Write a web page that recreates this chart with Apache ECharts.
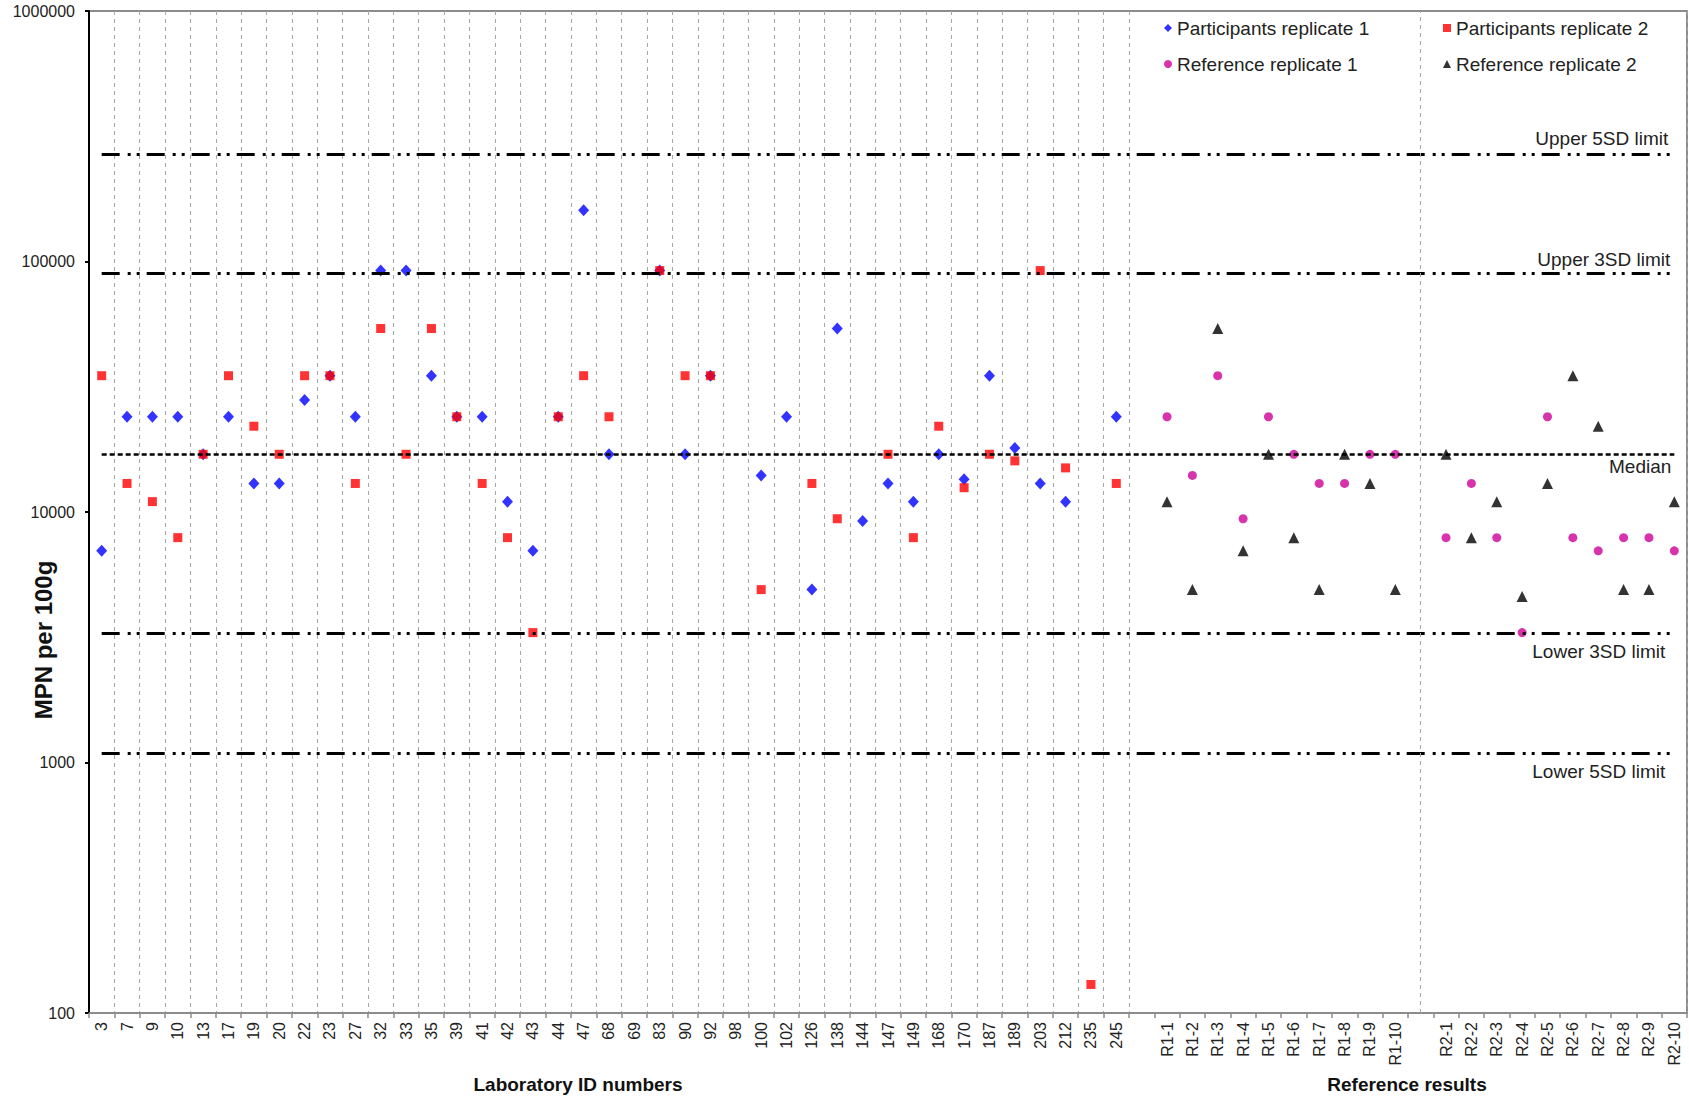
<!DOCTYPE html>
<html>
<head>
<meta charset="utf-8">
<script src="https://cdn.jsdelivr.net/npm/echarts@6/dist/echarts.min.js"></script>
<style>
  html, body { margin: 0; padding: 0; background: #fff; }
  #chart { width: 1689px; height: 1100px; }
</style>
</head>
<body>
<div id="chart"></div>
<script>
// ---------------- data ----------------
const labIds = ['3','7','9','10','13','17','19','20','22','23','27','32','33','35','39','41','42','43','44','47',
  '68','69','83','90','92','98','100','102','126','138','144','147','149','168','170','187','189','203','212','235','245'];
const partRep1 = [7000,24000,24000,24000,17000,24000,13000,13000,28000,35000,24000,92000,92000,35000,24000,24000,11000,7000,24000,160000,
  17000,null,92000,17000,35000,null,14000,24000,4900,54000,9200,13000,11000,17000,13500,35000,18000,13000,11000,null,24000];
const partRep2 = [35000,13000,11000,7900,17000,35000,22000,17000,35000,35000,13000,54000,17000,54000,24000,13000,7900,3300,24000,35000,
  24000,null,92000,35000,35000,null,4900,null,13000,9400,null,17000,7900,22000,12500,17000,16000,92000,15000,130,13000];

const refIdsR1 = ['R1-1','R1-2','R1-3','R1-4','R1-5','R1-6','R1-7','R1-8','R1-9','R1-10'];
const refIdsR2 = ['R2-1','R2-2','R2-3','R2-4','R2-5','R2-6','R2-7','R2-8','R2-9','R2-10'];
const refR1Rep1 = [24000,14000,35000,9400,24000,17000,13000,13000,17000,17000];
const refR1Rep2 = [11000,4900,54000,7000,17000,7900,4900,17000,13000,4900];
const refR2Rep1 = [7900,13000,7900,3300,24000,7900,7000,7900,7900,7000];
const refR2Rep2 = [17000,7900,11000,4600,13000,35000,22000,4900,4900,11000];

const limitNames = ['Upper 5SD limit','Upper 3SD limit','Median','Lower 3SD limit','Lower 5SD limit'];
const limitValues = [268000, 89700, 17000, 3280, 1088];

const yTicks = [100, 1000, 10000, 100000, 1000000];

// ---------------- build ----------------
const GAP1 = 'gap1', GAP2 = 'gap2';
const categories = labIds.concat([GAP1], refIdsR1, [GAP2], refIdsR2);
const pair = (ids, vals) => ids.map((c, i) => [c, vals[i]]).filter(p => p[1] != null);

const FONT = "'Liberation Sans', Arial, sans-serif";
const firstCat = categories[0], lastCat = categories[categories.length - 1];
const lastLabIndex = labIds.length; // boundary right of last lab

const limitLines = limitNames.map((n, i) => {
  const upper = i < 2;
  const isMedian = n === 'Median';
  return [
    { coord: [firstCat, limitValues[i]],
      lineStyle: isMedian ? { type: [5, 3], width: 2.5, color: '#000' } : { type: [18, 8, 3, 6, 3, 7], width: 3, color: '#000' },
      label: { show: true, formatter: n, position: upper ? 'insideEndTop' : 'insideEndBottom',
               distance: isMedian ? 3 : (upper ? (i === 1 ? 4 : 6) : 9), color: '#222', fontSize: 19, fontFamily: FONT } },
    { coord: [lastCat, limitValues[i]] }
  ];
});

const chart = echarts.init(document.getElementById('chart'), null, { renderer: 'svg' });
chart.setOption({
  backgroundColor: '#fff',
  animation: false,
  grid: { left: 89, right: 2, top: 11, bottom: 87, show: true, borderColor: '#8c8c8c', borderWidth: 2, backgroundColor: 'transparent' },
  legend: [
    { orient: 'vertical', left: 1159, top: 13, itemWidth: 8, itemHeight: 8, itemGap: 16,
      data: [{ name: 'Participants replicate 1', icon: 'diamond' }, { name: 'Reference replicate 1', icon: 'circle' }],
      textStyle: { fontSize: 19, fontFamily: FONT, color: '#222', lineHeight: 20 } },
    { orient: 'vertical', left: 1438, top: 13, itemWidth: 8, itemHeight: 8, itemGap: 16,
      data: [{ name: 'Participants replicate 2', icon: 'rect' }, { name: 'Reference replicate 2', icon: 'triangle' }],
      textStyle: { fontSize: 19, fontFamily: FONT, color: '#222', lineHeight: 20 } }
  ],
  xAxis: {
    type: 'category',
    data: categories,
    boundaryGap: true,
    axisLine: { lineStyle: { color: '#8c8c8c', width: 2 } },
    axisTick: { show: true, interval: 0, length: 5, lineStyle: { color: '#8c8c8c', width: 1.5 } },
    axisLabel: { interval: 0, rotate: 90, margin: 9, fontSize: 16, fontFamily: FONT, color: '#222',
      formatter: v => (v === GAP1 || v === GAP2) ? '' : v },
    splitLine: { show: true, interval: (i) => i >= 1 && i <= lastLabIndex,
      lineStyle: { color: '#a6a6a6', type: [4, 4], width: 1 } }
  },
  yAxis: {
    type: 'log', logBase: 10, min: yTicks[0], max: yTicks[yTicks.length - 1],
    axisLine: { show: true, lineStyle: { color: '#000', width: 2 } },
    axisTick: { show: true, length: 4, lineStyle: { color: '#000', width: 2 } },
    minorTick: { show: false },
    axisLabel: { fontSize: 16, fontFamily: FONT, color: '#222', margin: 14, formatter: v => String(Math.round(v)) },
    splitLine: { show: false }
  },
  graphic: [
    { type: 'text', x: 43, y: 640, rotation: Math.PI / 2,
      style: { text: 'MPN per 100g', font: "bold 24px " + FONT, fill: '#111', textAlign: 'center', textVerticalAlign: 'middle' } },
    { type: 'text', x: 578, y: 1084,
      style: { text: 'Laboratory ID numbers', font: "bold 19px " + FONT, fill: '#111', textAlign: 'center', textVerticalAlign: 'middle' } },
    { type: 'text', x: 1407, y: 1084,
      style: { text: 'Reference results', font: "bold 19px " + FONT, fill: '#111', textAlign: 'center', textVerticalAlign: 'middle' } }
  ],
  series: [
    { name: 'limits', type: 'line', data: [], silent: true,
      markLine: { silent: true, symbol: 'none', data: limitLines } },
    { name: 'divider', type: 'line', data: [], silent: true,
      markLine: { silent: true, symbol: 'none', label: { show: false },
        lineStyle: { color: '#a6a6a6', type: [4, 4], width: 1 }, data: [{ xAxis: GAP2 }] } },
    { name: 'Participants replicate 1', type: 'scatter', symbol: 'diamond', symbolSize: [11, 12],
      itemStyle: { color: '#0000ff' }, data: pair(labIds, partRep1), z: 3 },
    { name: 'Participants replicate 2', type: 'scatter', symbol: 'rect', symbolSize: 9,
      itemStyle: { color: '#ff0000' }, data: pair(labIds, partRep2), z: 4 },
    { name: 'Reference replicate 1', type: 'scatter', symbol: 'circle', symbolSize: 9,
      itemStyle: { color: '#cc0099' }, data: pair(refIdsR1, refR1Rep1).concat(pair(refIdsR2, refR2Rep1)), z: 3 },
    { name: 'Reference replicate 2', type: 'scatter', symbol: 'triangle', symbolSize: 11,
      itemStyle: { color: '#000000' }, data: pair(refIdsR1, refR1Rep2).concat(pair(refIdsR2, refR2Rep2)), z: 4 }
  ]
});
</script>
</body>
</html>
